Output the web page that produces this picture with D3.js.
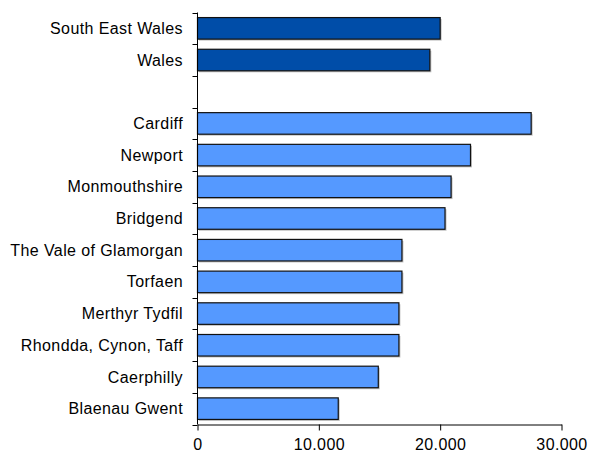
<!DOCTYPE html>
<html>
<head>
<meta charset="utf-8">
<script src="https://cdn.jsdelivr.net/npm/d3@7"></script>
<style>
  html, body { margin: 0; padding: 0; background: #fff; }
  svg { display: block; font-family: Arial, "Liberation Sans", sans-serif; }
</style>
</head>
<body>
<svg id="chart" width="592" height="454"></svg>
<script>
// Areas, top to bottom; the blank entry leaves a gap between the summary rows and the authorities
const categories = [
  "South East Wales", "Wales", "",
  "Cardiff", "Newport", "Monmouthshire", "Bridgend", "The Vale of Glamorgan",
  "Torfaen", "Merthyr Tydfil", "Rhondda, Cynon, Taff", "Caerphilly", "Blaenau Gwent"
];
const values = [
  20000, 19150, null,
  27500, 22500, 20900, 20400, 16850,
  16850, 16600, 16600, 14900, 11600
];
const summaryRows = ["South East Wales", "Wales"];
const xTicks = [0, 10000, 20000, 30000];
const xTickLabels = ["0", "10.000", "20.000", "30.000"];

const svg = d3.select("#chart");
const x0 = 197.5, x1 = 561.5;
const y0 = 12.5, y1 = 424.5;

const x = d3.scaleLinear().domain([0, 30000]).range([x0, x1]);
const y = d3.scaleBand().domain(categories.map((c, i) => i)).range([y0, y1]).paddingInner(0.32).paddingOuter(0.16);
const band = d3.scaleBand().domain(categories.map((c, i) => i)).range([y0, y1]);

const rows = categories.map((c, i) => ({ name: c, value: values[i], i }))
  .filter(d => d.value != null);

// soft drop shadow
svg.append("g").selectAll("rect").data(rows).join("rect")
  .attr("x", x(0) + 1.5)
  .attr("y", d => y(d.i) + 1.5)
  .attr("width", d => x(d.value) - x(0))
  .attr("height", y.bandwidth())
  .attr("fill", "#9a9a9a")
  .attr("opacity", 0.6);

// bars
svg.append("g").selectAll("rect").data(rows).join("rect")
  .attr("x", x(0))
  .attr("y", d => y(d.i))
  .attr("width", d => x(d.value) - x(0))
  .attr("height", y.bandwidth())
  .attr("fill", d => summaryRows.includes(d.name) ? "#004DA8" : "#5599FF")
  .attr("stroke", "#111")
  .attr("stroke-width", 1.2);

// category axis: ticks on band boundaries
const yAxis = svg.append("g");
yAxis.append("line")
  .attr("x1", x0).attr("x2", x0).attr("y1", y0).attr("y2", y1)
  .attr("stroke", "#000");
yAxis.selectAll("line.tick").data(d3.range(categories.length + 1)).join("line")
  .attr("class", "tick")
  .attr("x1", x0 - 5).attr("x2", x0)
  .attr("y1", i => Math.round(y0 + i * band.step()) + 0.5)
  .attr("y2", i => Math.round(y0 + i * band.step()) + 0.5)
  .attr("stroke", "#000");
yAxis.selectAll("text").data(categories.map((c, i) => ({ c, i })).filter(d => d.c)).join("text")
  .attr("x", 183)
  .attr("y", d => band(d.i) + band.bandwidth() / 2)
  .attr("dy", "0.35em")
  .attr("text-anchor", "end")
  .attr("font-size", 16)
  .attr("letter-spacing", 0.4)
  .attr("fill", "#000")
  .text(d => d.c);

// value axis
const xAxis = svg.append("g")
  .attr("transform", `translate(0,${y1})`)
  .call(d3.axisBottom(x).tickValues(xTicks).tickSize(6).tickSizeOuter(0)
    .tickFormat((d, i) => xTickLabels[i]));
xAxis.select(".domain").attr("stroke", "#000");
xAxis.selectAll(".tick line").attr("stroke", "#000");
xAxis.selectAll(".tick text")
  .attr("font-size", 16)
  .attr("letter-spacing", 0.4)
  .attr("font-family", "Arial, 'Liberation Sans', sans-serif")
  .attr("fill", "#000")
  .attr("dy", "0.71em")
  .attr("y", 14);
</script>
</body>
</html>
